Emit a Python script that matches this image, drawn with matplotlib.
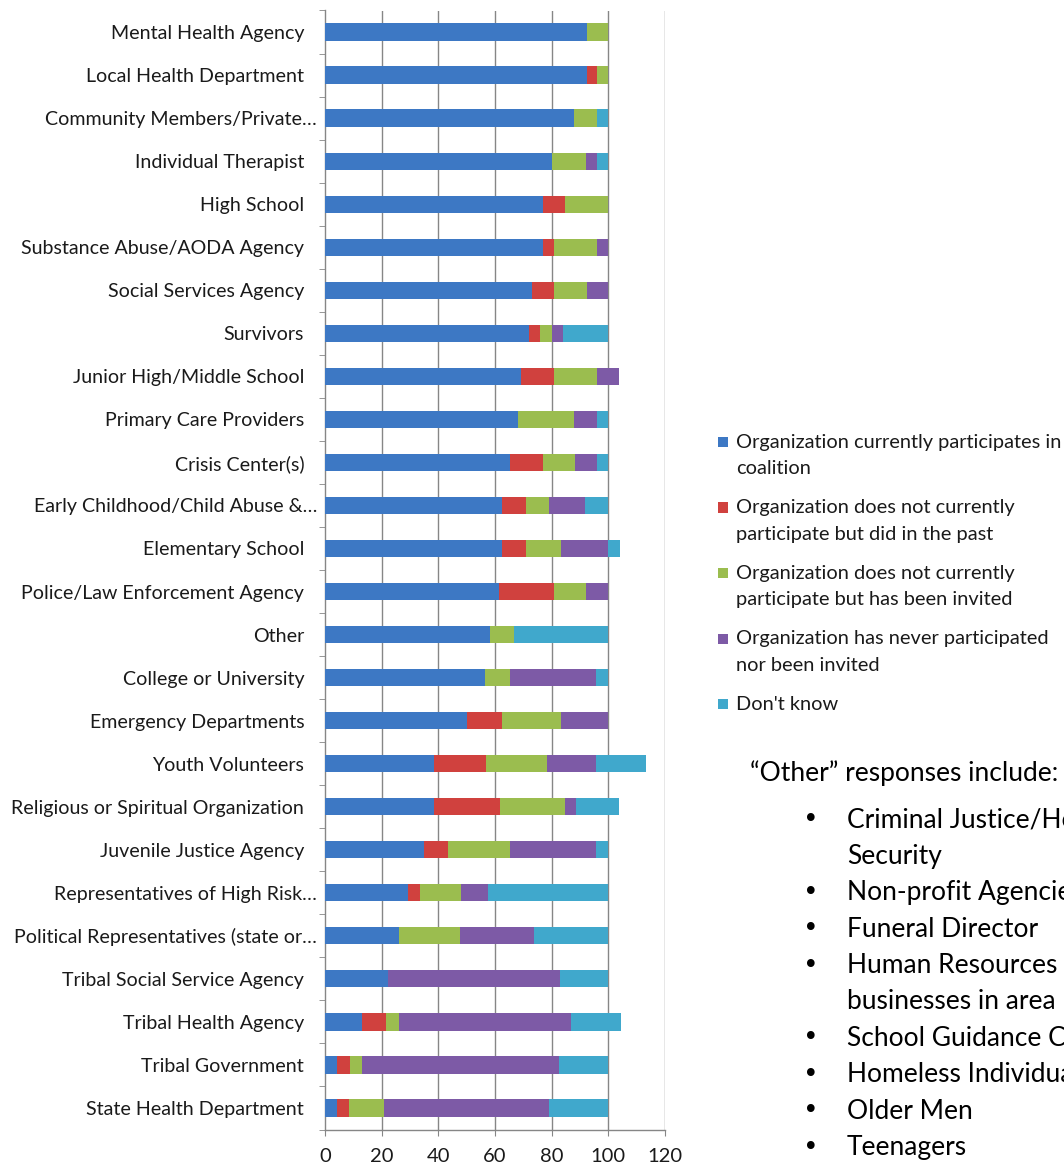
import matplotlib
matplotlib.use("Agg")
import matplotlib.pyplot as plt
from matplotlib.patches import Rectangle
from matplotlib.transforms import ScaledTranslation
import numpy as np

plt.rcParams['font.family'] = ['Lato', 'DejaVu Sans']

categories = [
    "Mental Health Agency", "Local Health Department", "Community Members/Private\u2026",
    "Individual Therapist", "High School", "Substance Abuse/AODA Agency",
    "Social Services Agency", "Survivors", "Junior High/Middle School",
    "Primary Care Providers", "Crisis Center(s)", "Early Childhood/Child Abuse &\u2026",
    "Elementary School", "Police/Law Enforcement Agency", "Other",
    "College or University", "Emergency Departments", "Youth Volunteers",
    "Religious or Spiritual Organization", "Juvenile Justice Agency",
    "Representatives of High Risk\u2026", "Political Representatives (state or\u2026",
    "Tribal Social Service Agency", "Tribal Health Agency", "Tribal Government",
    "State Health Department",
]

participates = [92.3, 92.3, 88, 80, 76.9, 76.9, 73.1, 72, 69.2, 68, 65.4, 62.5, 62.5,
                61.5, 58.3, 56.5, 50, 38.5, 38.5, 34.8, 29.2, 26.1, 22.2, 13, 4.3, 4.2]
past = [0, 3.8, 0, 0, 7.7, 3.8, 7.7, 4, 11.5, 0, 11.5, 8.3, 8.3,
        19.2, 0, 0, 12.5, 18.3, 23.1, 8.7, 4.2, 0, 0, 8.7, 4.4, 4.2]
invited = [7.7, 3.8, 8, 12, 15.4, 15.4, 11.5, 4, 15.4, 20, 11.5, 8.3, 12.5,
           11.5, 8.3, 8.7, 20.8, 21.7, 23.1, 21.7, 14.6, 21.7, 0, 4.3, 4.3, 12.5]
never = [0, 0, 0, 4, 0, 3.8, 7.7, 4, 7.7, 8, 7.7, 12.5, 16.7,
         7.7, 0, 30.4, 16.7, 17.1, 3.8, 30.4, 9.4, 26.1, 60.6, 60.9, 69.6, 58.3]
dont_know = [0, 0, 4, 4, 0, 0, 0, 16, 0, 4, 3.8, 8.3, 4.2,
             0, 33.3, 4.3, 0, 17.7, 15.4, 4.3, 42.6, 26.1, 17.2, 17.4, 17.4, 20.8]

series_labels = [
    "Organization currently participates in\ncoalition",
    "Organization does not currently\nparticipate but did in the past",
    "Organization does not currently\nparticipate but has been invited",
    "Organization has never participated\nnor been invited",
    "Don't know",
]
colors = ["#3d78c4", "#d0413e", "#9bbd4f", "#7d5aa6", "#40a8cc"]

other_responses = [
    "Criminal Justice/Homeland\nSecurity",
    "Non-profit Agencies",
    "Funeral Director",
    "Human Resources\nbusinesses in area",
    "School Guidance Counselors",
    "Homeless Individuals",
    "Older Men",
    "Teenagers",
]

W, H = 1064, 1166
fig = plt.figure(figsize=(W / 100, H / 100), dpi=100)
fig.patch.set_facecolor("white")

def fx(px):
    return px / W

def fy(py):
    return 1 - py / H

# axes placed in pixel terms
ax = fig.add_axes([fx(325), fy(1129.5), 340 / W, 1119 / H])

y = np.arange(len(categories))
left = np.zeros(len(categories))
for vals, c in zip([participates, past, invited, never, dont_know], colors):
    ax.barh(y, vals, left=left, height=0.4, color=c, zorder=3)
    left += np.array(vals)

ax.set_xlim(0, 120)
ax.set_ylim(len(categories) - 0.5, -0.5)
ax.set_xticks(range(0, 121, 20))
ax.set_yticks(y)
ax.set_yticklabels(categories)
ax.set_yticks(np.arange(-0.5, len(categories)), minor=True)

gc = "#868686"
for xv in range(20, 121, 20):
    ax.axvline(xv, color=gc, lw=1, zorder=1)
for s in ["top", "right"]:
    ax.spines[s].set_visible(False)
for s in ["left", "bottom"]:
    ax.spines[s].set_color(gc)
    ax.spines[s].set_linewidth(1)

ax.tick_params(axis="y", which="major", length=0, pad=15, labelsize=14.1, labelcolor="#1a1a1a")
ax.tick_params(axis="y", which="minor", length=4, color=gc, direction="out")
ax.tick_params(axis="x", length=4, color=gc, direction="out", pad=9,
               labelsize=14.5, labelcolor="#1a1a1a")

# truncated labels sit a bit closer to the axis, like the original
for lab in ax.get_yticklabels():
    if lab.get_text().endswith("\u2026"):
        lab.set_transform(lab.get_transform() + ScaledTranslation(0.13, 0, fig.dpi_scale_trans))

# legend, drawn by hand so the swatch lines up with the first text line
ly = 442
for c, lab in zip(colors, series_labels):
    fig.patches.append(Rectangle((fx(718), fy(ly + 5)), 10 / W, 10 / H,
                                 transform=fig.transFigure, facecolor=c, edgecolor="none"))
    for ln in lab.split("\n"):
        fig.text(fx(736), fy(ly), ln, fontsize=14.4, va="center", ha="left", color="#1a1a1a")
        ly += 27
    ly += 38.5 - 27

fig.text(fx(750), fy(773), "\u201cOther\u201d responses include:",
         fontsize=19, va="center", ha="left", color="black")
yy = 820
for item in other_responses:
    fig.text(fx(803), fy(yy), "\u2022", fontsize=19, va="center", ha="left",
             family="DejaVu Sans")
    for ln in item.split("\n"):
        fig.text(fx(847), fy(yy), ln, fontsize=19, va="center", ha="left")
        yy += 36.4

fig.savefig("out.png", dpi=100)
